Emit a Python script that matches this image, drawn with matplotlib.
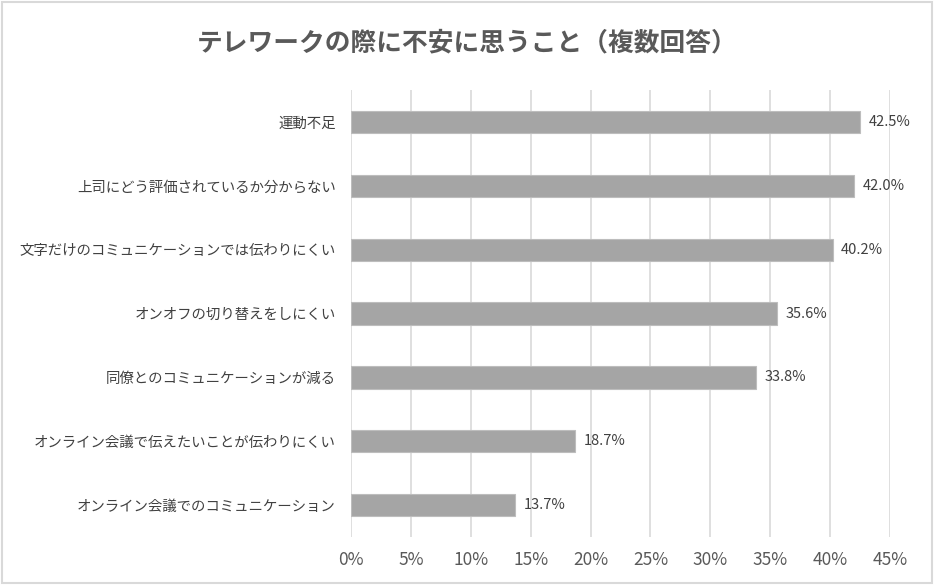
import matplotlib
matplotlib.use("Agg")
import matplotlib.pyplot as plt
from matplotlib.patches import Rectangle
from matplotlib.ticker import PercentFormatter

plt.rcParams['font.family'] = ['Noto Sans CJK JP', 'DejaVu Sans']

# data (top to bottom as in the chart)
labels = ['運動不足', '上司にどう評価されているか分からない', '文字だけのコミュニケーションでは伝わりにくい',
          'オンオフの切り替えをしにくい', '同僚とのコミュニケーションが減る',
          'オンライン会議で伝えたいことが伝わりにくい', 'オンライン会議でのコミュニケーション']
values = [42.5, 42.0, 40.2, 35.6, 33.8, 18.7, 13.7]
xticks = [0, 5, 10, 15, 20, 25, 30, 35, 40, 45]

fig = plt.figure(figsize=(9.34, 5.85), dpi=100)
ax = fig.add_axes([0.3758, 0.082, 0.953 - 0.3758, 0.846 - 0.082])

ypos = list(range(len(values)))
ax.barh(ypos, values, height=0.35, color='#A5A5A5', edgecolor='#BDBDBD', linewidth=0.8, zorder=3)
for y, v in zip(ypos, values):
    ax.text(v + 0.7, y, f'{v:.1f}%', va='center', ha='left', fontsize=10.5, color='#404040')

ax.set_ylim(len(values) - 0.5, -0.5)
ax.set_xlim(0, 45)
ax.set_xticks(xticks)
ax.xaxis.set_major_formatter(PercentFormatter(decimals=0))
ax.set_yticks(ypos)
ax.set_yticklabels(labels, fontsize=10.4, color='#404040')
ax.tick_params(axis='x', labelsize=12.5, colors='#595959', length=0, pad=10)
ax.tick_params(axis='y', length=0, pad=11)
ax.grid(axis='x', color='#D9D9D9', linewidth=1.2, zorder=0)
for s in ax.spines.values():
    s.set_visible(False)

fig.text(0.5, 0.926, 'テレワークの際に不安に思うこと（複数回答）', ha='center', va='center',
         fontsize=18.5, fontweight='bold', color='#595959')

fig.patches.append(Rectangle((0.002, 0.003), 0.996, 0.994, transform=fig.transFigure,
                             fill=False, edgecolor='#D9D9D9', linewidth=1.5))

fig.savefig('out.png', dpi=100)
